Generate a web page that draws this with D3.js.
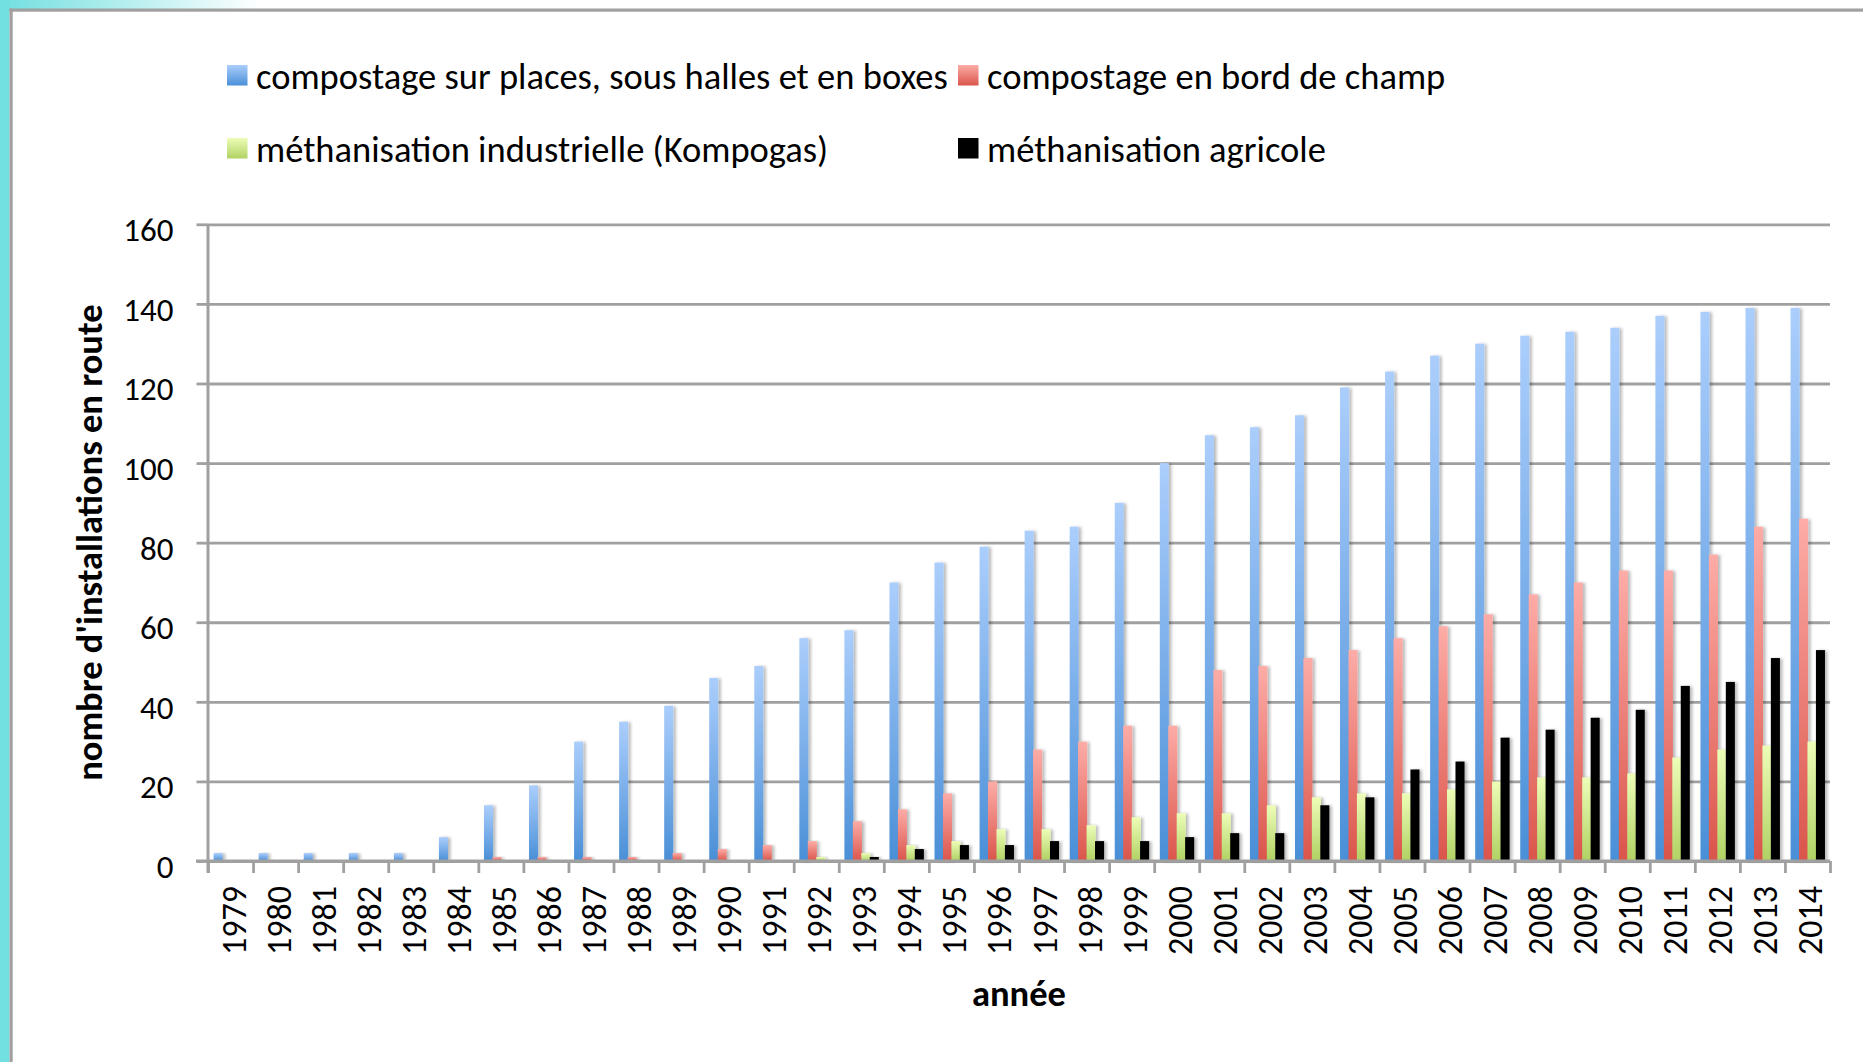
<!DOCTYPE html>
<html>
<head>
<meta charset="utf-8">
<script src="https://cdn.jsdelivr.net/npm/d3@7"></script>
<style>
body { margin: 0; background: #fff; }
text { font-family: Carlito, Lato, sans-serif; }
</style>
</head>
<body>
<script>
// categories
var years = ["1979", "1980", "1981", "1982", "1983", "1984", "1985", "1986", "1987", "1988",
    "1989", "1990", "1991", "1992", "1993", "1994", "1995", "1996", "1997", "1998",
    "1999", "2000", "2001", "2002", "2003", "2004", "2005", "2006", "2007", "2008",
    "2009", "2010", "2011", "2012", "2013", "2014"];

var seriesNames = [
    "compostage sur places, sous halles et en boxes",
    "compostage en bord de champ",
    "méthanisation industrielle (Kompogas)",
    "méthanisation agricole"
];

// series values, one per year
var compostagePlaces = [2, 2, 2, 2, 2, 6, 14, 19, 30, 35,
    39, 46, 49, 56, 58, 70, 75, 79, 83, 84,
    90, 100, 107, 109, 112, 119, 123, 127, 130, 132,
    133, 134, 137, 138, 139, 139];
var compostageChamp = [0, 0, 0, 0, 0, 0, 1, 1, 1, 1,
    2, 3, 4, 5, 10, 13, 17, 20, 28, 30,
    34, 34, 48, 49, 51, 53, 56, 59, 62, 67,
    70, 73, 73, 77, 84, 86];
var methIndustrielle = [0, 0, 0, 0, 0, 0, 0, 0, 0, 0,
    0, 0, 0, 1, 2, 4, 5, 8, 8, 9,
    11, 12, 12, 14, 16, 17, 17, 18, 20, 21,
    21, 22, 26, 28, 29, 30];
var methAgricole = [0, 0, 0, 0, 0, 0, 0, 0, 0, 0,
    0, 0, 0, 0, 1, 3, 4, 4, 5, 5,
    5, 6, 7, 7, 14, 16, 23, 25, 31, 33,
    36, 38, 44, 45, 51, 53];

var yTickValues = [0, 20, 40, 60, 80, 100, 120, 140, 160];

var seriesValues = [compostagePlaces, compostageChamp, methIndustrielle, methAgricole];

var width = 1863, height = 1062;
var plot = { left: 208, right: 1830, top: 224.3, bottom: 861 };
var gridColor = "#a0a0a0";

var svg = d3.select("body").append("svg")
    .attr("width", width)
    .attr("height", height);

var defs = svg.append("defs");

// frame: teal band on the left, fading strip on top, grey border
var topFade = defs.append("linearGradient").attr("id", "topFade")
    .attr("x1", "0").attr("x2", "1").attr("y1", "0").attr("y2", "0");
topFade.append("stop").attr("offset", "0").attr("stop-color", "#72dfe0");
topFade.append("stop").attr("offset", "1").attr("stop-color", "#ffffff");

svg.append("rect").attr("x", 0).attr("y", 0).attr("width", width).attr("height", height).attr("fill", "#fff");
svg.append("rect").attr("x", 0).attr("y", 0).attr("width", 260).attr("height", 10).attr("fill", "url(#topFade)");
svg.append("rect").attr("x", 0).attr("y", 0).attr("width", 9.5).attr("height", height).attr("fill", "#72dfe0");
svg.append("rect").attr("x", 9.5).attr("y", 8.5).attr("width", width - 9.5).attr("height", 3.2).attr("fill", gridColor);
svg.append("rect").attr("x", 9.5).attr("y", 8.5).attr("width", 3.2).attr("height", height - 8.5).attr("fill", gridColor);

// bar gradients, light at the top of each bar, dark at its foot
var barColors = [
    { top: "#abcefc", bottom: "#4a8fd7" },
    { top: "#fdaca7", bottom: "#da554b" },
    { top: "#edfdb8", bottom: "#b0d263" },
    { top: "#000000", bottom: "#000000" }
];
var barFills = barColors.map(function(c, i) {
    var g = defs.append("linearGradient").attr("id", "barGrad" + i)
        .attr("x1", "0").attr("x2", "0").attr("y1", "0").attr("y2", "1");
    g.append("stop").attr("offset", "0").attr("stop-color", c.top);
    g.append("stop").attr("offset", "1").attr("stop-color", c.bottom);
    return "url(#barGrad" + i + ")";
});

var shadow = defs.append("filter").attr("id", "barShadow")
    .attr("x", "-50%").attr("y", "-5%").attr("width", "200%").attr("height", "110%");
shadow.append("feDropShadow")
    .attr("dx", 2.5).attr("dy", 0.5).attr("stdDeviation", 1.8)
    .attr("flood-color", "#000").attr("flood-opacity", 0.28);

// scales
var x = d3.scaleBand()
    .domain(years)
    .range([plot.left, plot.right])
    .paddingInner(0.25)
    .paddingOuter(0.125);

var xSub = d3.scaleBand()
    .domain(d3.range(seriesNames.length))
    .range([0, x.bandwidth()]);

var y = d3.scaleLinear()
    .domain([0, 160])
    .range([plot.bottom, plot.top]);

var xBound = d3.scaleLinear()
    .domain([0, years.length])
    .range([plot.left, plot.right]);

// gridlines
var grid = svg.append("g")
    .attr("transform", "translate(" + plot.left + ",0)")
    .call(d3.axisLeft(y).tickValues(yTickValues).tickSize(-(plot.right - plot.left)).tickFormat(""));
grid.select(".domain").remove();
grid.selectAll(".tick line").attr("stroke", gridColor).attr("stroke-width", 2.8);

// bars
var groups = svg.append("g").selectAll("g")
    .data(years)
    .join("g")
    .attr("transform", function(d) { return "translate(" + x(d) + ",0)"; });

groups.selectAll("rect")
    .data(function(d, i) {
        return seriesValues.map(function(s, k) { return { k: k, v: s[i] }; });
    })
    .join("rect")
    .filter(function(d) { return d.v > 0; })
    .attr("x", function(d) { return xSub(d.k); })
    .attr("width", xSub.bandwidth() + 0.6)
    .attr("y", function(d) { return y(d.v); })
    .attr("height", function(d) { return y(0) - y(d.v); })
    .attr("fill", function(d) { return barFills[d.k]; })
    .attr("filter", "url(#barShadow)");

// y axis
var yAxis = svg.append("g")
    .attr("transform", "translate(" + plot.left + ",0)")
    .call(d3.axisLeft(y).tickValues(yTickValues).tickSize(11.5).tickPadding(23));
yAxis.select(".domain").attr("stroke", gridColor).attr("stroke-width", 3)
    .attr("d", "M0," + plot.top + "V" + (plot.bottom + 12));
yAxis.selectAll(".tick line").attr("stroke", gridColor).attr("stroke-width", 2.8);
yAxis.selectAll(".tick text")
    .attr("dy", "0.5em")
    .attr("fill", "#000")
    .style("font-size", "33px");

// x axis: tick marks between categories
var xTicks = svg.append("g")
    .attr("transform", "translate(0," + plot.bottom + ")")
    .call(d3.axisBottom(xBound).tickValues(d3.range(years.length + 1)).tickSize(12).tickFormat(""));
xTicks.select(".domain").attr("stroke", gridColor).attr("stroke-width", 3)
    .attr("d", "M" + (plot.left - 12) + ",0H" + plot.right);
xTicks.selectAll(".tick line").attr("stroke", gridColor).attr("stroke-width", 2.8);

// x labels, rotated
svg.append("g").selectAll("text")
    .data(years)
    .join("text")
    .attr("transform", function(d) {
        return "translate(" + (x(d) + x.bandwidth() / 2) + "," + (plot.bottom + 25) + ") rotate(-90)";
    })
    .attr("text-anchor", "end")
    .attr("dy", 15)
    .attr("fill", "#000")
    .style("font-size", "34px")
    .text(function(d) { return d; });

// axis titles
svg.append("text")
    .attr("x", (plot.left + plot.right) / 2)
    .attr("y", 1006)
    .attr("text-anchor", "middle")
    .style("font-size", "36.5px")
    .style("font-weight", "bold")
    .text("année");

svg.append("text")
    .attr("transform", "translate(102," + ((plot.top + plot.bottom) / 2) + ") rotate(-90)")
    .attr("text-anchor", "middle")
    .style("font-size", "36.5px")
    .style("font-weight", "bold")
    .text("nombre d'installations en route");

// legend
var legendPos = [
    { x: 227, y: 65 },
    { x: 958, y: 65 },
    { x: 227, y: 138 },
    { x: 958, y: 138 }
];
var legend = svg.append("g").selectAll("g")
    .data(seriesNames)
    .join("g")
    .attr("transform", function(d, i) { return "translate(" + legendPos[i].x + "," + legendPos[i].y + ")"; });

legend.append("rect")
    .attr("width", 20.5)
    .attr("height", 20.5)
    .attr("fill", function(d, i) { return barFills[i]; });

var legendText = legend.append("text")
    .attr("x", 29)
    .attr("y", 24)
    .style("font-size", "30px")
    .text(function(d) { return d; });

// fit legend font to the width of the first entry
var firstLen = legendText.node().getComputedTextLength();
var legendSize = 30 * 692 / firstLen;
legendText.style("font-size", legendSize + "px");
</script>
</body>
</html>
